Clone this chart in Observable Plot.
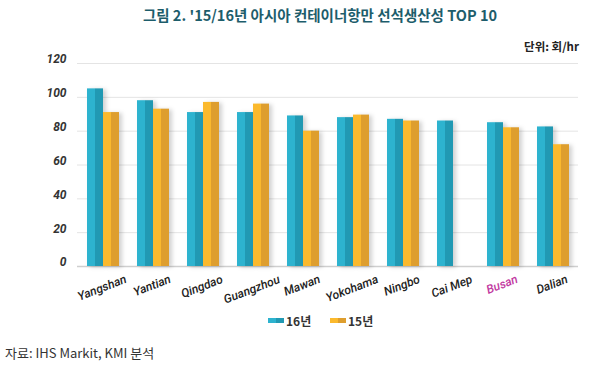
<!DOCTYPE html>
<html><head><meta charset="utf-8">
<script src="https://cdn.jsdelivr.net/npm/d3@7"></script>
<script src="https://cdn.jsdelivr.net/npm/@observablehq/plot@0.6"></script>
<style>
body{margin:0;background:#fff;font-family:"Noto Sans CJK KR","Noto Sans",sans-serif;}
#wrap{position:relative;width:600px;height:371px;overflow:hidden;background:#fff;}
#title{position:absolute;left:0;width:640px;top:4px;text-align:center;font-size:14.5px;font-weight:700;color:#1d5d6b;}
#unit{position:absolute;right:21px;top:38px;font-size:11.5px;font-weight:700;color:#222;}
#chart{position:absolute;left:0;top:50px;}
#legend{position:absolute;left:0;top:311px;height:18px;width:600px;font-size:12px;font-weight:700;color:#333;}
#legend .item{position:absolute;top:0;height:18px;display:flex;align-items:center;}
#legend .sw{display:inline-block;width:16px;height:5px;margin-right:2px;}
#caption{position:absolute;left:5px;top:343px;font-size:13px;color:#333;}
</style></head><body>
<div id="wrap">
<div id="title">그림 2. '15/16년 아시아 컨테이너항만 선석생산성 TOP 10</div>
<div id="unit">단위: 회/hr</div>
<div id="chart"></div>
<div id="legend"></div>
<div id="caption">자료: IHS Markit, KMI 분석</div>
</div>
<script>
const ports = ["Yangshan","Yantian","Qingdao","Guangzhou","Mawan","Yokohama","Ningbo","Cai Mep","Busan","Dalian"];
const seriesNames = ["16년","15년"];
const values16 = [105,98,91,91,89,88,87,86,85,82.5];
const values15 = [91,93,97,96,80,89.5,86,null,82,72];
const yTicks = [0,20,40,60,80,100,120];
const highlightPort = "Busan";

const data16 = ports.map((p,i)=>({port:p, value:values16[i]}));
const data15 = ports.map((p,i)=>({port:p, value:values15[i]})).filter(d=>d.value!=null);

const ROT = -21;
const svg = Plot.plot({
  width:600, height:260,
  marginTop:13, marginBottom:44, marginLeft:77, marginRight:22,
  style:{background:"transparent"},
  x:{domain:ports, padding:0, axis:null},
  y:{domain:[0,120], axis:null},
  marks:[
    Plot.gridY(yTicks.slice(1), {stroke:"#e4e4e4", strokeOpacity:1}),
    Plot.ruleY([0], {stroke:"#cfcfcf", strokeWidth:1.5}),
    Plot.barY(data16, {x:"port", y:"value", fill:"url(#g16)", insetLeft:9, insetRight:25}),
    Plot.barY(data15, {x:"port", y:"value", fill:"url(#g15)", insetLeft:25, insetRight:9}),
    Plot.text(yTicks, {y:d=>d, text:d=>String(d), frameAnchor:"left", textAnchor:"end", dx:-11, dy:-4,
      fontSize:12, fontStyle:"italic", fontWeight:700, fill:"#333", fontFamily:"Roboto, 'Noto Sans', sans-serif"}),
    Plot.text(ports, {x:d=>d, y:0, text:d=>d, rotate:ROT, textAnchor:"middle",
      fontSize:12, fontStyle:"italic", fontWeight:500, fontFamily:"Roboto, 'Noto Sans', sans-serif",
      fill:d=>d===highlightPort?"#c2389f":"#222"})
  ]
});

const ns = "http://www.w3.org/2000/svg";
const defs = document.createElementNS(ns,"defs");
defs.innerHTML = `
<linearGradient id="g16" x1="0" x2="1" y1="0" y2="0">
 <stop offset="0" stop-color="#2db3cf"/><stop offset="0.5" stop-color="#2db3cf"/>
 <stop offset="0.5" stop-color="#2199b3"/><stop offset="1" stop-color="#2199b3"/></linearGradient>
<linearGradient id="g15" x1="0" x2="1" y1="0" y2="0">
 <stop offset="0" stop-color="#fbb92d"/><stop offset="0.5" stop-color="#fbb92d"/>
 <stop offset="0.5" stop-color="#de9e2e"/><stop offset="1" stop-color="#de9e2e"/></linearGradient>`;
svg.insertBefore(defs, svg.firstChild);
svg.querySelectorAll('g[aria-label="bar"]').forEach(g=>g.style.filter="drop-shadow(3px 1px 2px rgba(0,0,0,0.18))");
document.getElementById("chart").appendChild(svg);

// place rotated category labels: bounding box centred under each band, top just below the baseline
const xs = svg.scale("x"), ys = svg.scale("y");
const base = ys.apply(0);
const textGroups = svg.querySelectorAll('g[aria-label="text"]');
const labelGroup = textGroups[textGroups.length-1];
const svgRect = svg.getBoundingClientRect();
labelGroup.querySelectorAll("text").forEach((t,i)=>{
  const cx = xs.apply(ports[i]) + xs.bandwidth/2;
  t.removeAttribute("x"); t.removeAttribute("y");
  t.setAttribute("text-anchor","middle");
  t.setAttribute("transform",`translate(${cx},${base}) rotate(${ROT})`);
  const r = t.getBoundingClientRect();
  const nx = cx + (cx - 1 - (r.left + r.width/2 - svgRect.left));
  const ny = base + (base + 6 - (r.top - svgRect.top));
  t.setAttribute("transform",`translate(${nx},${ny}) rotate(${ROT})`);
});

const legend = document.getElementById("legend");
const grads = {"16년":"linear-gradient(90deg,#2db3cf 50%,#2199b3 50%)","15년":"linear-gradient(90deg,#fbb92d 50%,#de9e2e 50%)"};
const legendLeft = {"16년":268, "15년":330};
seriesNames.forEach(s=>{
  const it = document.createElement("span"); it.className="item";
  it.style.left = legendLeft[s] + "px";
  it.innerHTML = `<span class="sw" style="background:${grads[s]}"></span><span>${s}</span>`;
  legend.appendChild(it);
});
</script>
</body></html>
